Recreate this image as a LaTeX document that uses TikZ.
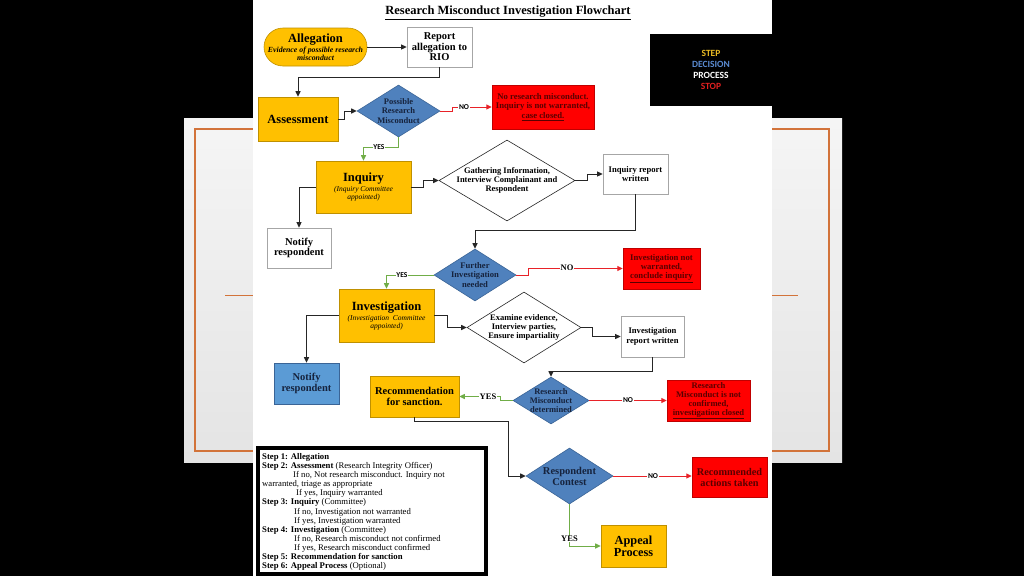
\documentclass[tikz,border=0pt]{standalone}
\usepackage{fontspec}
\setmainfont{Liberation Serif}
\newfontfamily\calfont{Carlito}
\usetikzlibrary{shapes.geometric,arrows.meta,calc}
\newcommand{\fsz}[2]{\fontsize{#1}{#2}\selectfont}
\definecolor{gold}{HTML}{FFC000}
\definecolor{goldb}{HTML}{BF9000}
\definecolor{bluef}{HTML}{4F81BD}
\definecolor{blueb}{HTML}{3A6496}
\definecolor{notblue}{HTML}{5B9BD5}
\definecolor{redf}{HTML}{FF0000}
\definecolor{redb}{HTML}{C00000}
\definecolor{redtxt}{HTML}{5A0000}
\definecolor{navy}{HTML}{16233D}
\definecolor{grn}{HTML}{70AD47}
\definecolor{redln}{HTML}{E82228}
\definecolor{orng}{HTML}{D2733A}
\definecolor{lnk}{HTML}{262626}
\definecolor{boxb}{HTML}{A6A6A6}
\definecolor{slidetop}{HTML}{F5F5F5}
\definecolor{slidebot}{HTML}{E4E4E4}
\definecolor{stepc}{HTML}{E8B923}
\definecolor{decc}{HTML}{5A8AD0}
\definecolor{stopc}{HTML}{E02020}
\tikzset{
 goldbox/.style={draw=goldb, fill=gold, line width=0.6pt, align=center, inner sep=1pt},
 wbox/.style={draw=boxb, fill=white, line width=0.7pt, align=center, inner sep=1pt},
 bluebox/.style={draw=blueb, fill=notblue, line width=0.6pt, align=center, inner sep=1pt, text=navy},
 rbox/.style={draw=redb, fill=redf, line width=0.5pt, align=center, text=redtxt, inner sep=1pt},
 bdia/.style={diamond, draw=blueb, fill=bluef, line width=0.6pt, inner sep=0pt},
 wdia/.style={diamond, draw=lnk, fill=white, line width=0.6pt, inner sep=0pt},
 dtext/.style={align=center, inner sep=0pt},
 conn/.style={draw=lnk, line width=1pt, -{Triangle[length=5.5pt,width=5pt]}},
 gconn/.style={conn, draw=grn},
 rconn/.style={conn, draw=redln},
 lbl/.style={fill=white, inner sep=0.6pt, font=\calfont\bfseries\fsz{7.5}{8}},
 lbls/.style={fill=white, inner sep=0.6pt, font=\bfseries\fsz{8.5}{9}},
}
\begin{document}
\begin{tikzpicture}[x=1pt,y=-1pt]
% background slide
\fill[black] (0,0) rectangle (1024,576);
\shade[top color=slidetop, bottom color=slidebot] (184,118) rectangle (842,462);
\draw[orng, line width=1.3pt] (195,129) rectangle (829,451);
\draw[orng, line width=1.3pt] (225,295.5) -- (798,295.5);
\fill[white] (253,0) rectangle (772,576);

% title and key
\node[inner sep=0pt, font=\bfseries\fsz{12.5}{14}] (title) at (508,13) {\underline{Research Misconduct Investigation Flowchart}};
\node[fill=black, minimum width=122, minimum height=72, inner sep=0pt, align=center, font=\calfont\bfseries\fsz{9.5}{11}] (key) at (711,70) {\textcolor{stepc}{STEP}\\\textcolor{decc}{DECISION}\\\textcolor{white}{PROCESS}\\\textcolor{stopc}{STOP}};

% nodes
\node[goldbox, rounded corners=19pt, minimum width=103, minimum height=38, font=\bfseries\itshape\fsz{7.8}{8}] (alleg) at (315.5,47) {{\upshape\fsz{12.5}{13}Allegation}\\[0.5pt]Evidence of possible research\\misconduct};
\node[wbox, minimum width=65, minimum height=40, font=\bfseries\fsz{10.5}{10.5}] (rep) at (439.5,47) {Report\\allegation to\\RIO};
\node[goldbox, minimum width=80, minimum height=44, font=\bfseries\fsz{12.5}{13}] (assess) at (298,119) {Assessment};
\node[bdia, minimum width=83, minimum height=52] (pr) at (398.5,111) {};
\node[dtext, text=navy, font=\bfseries\fsz{8.5}{9.2}] (prt) at (pr) {Possible\\Research\\Misconduct};
\node[rbox, minimum width=102, minimum height=44, font=\bfseries\fsz{8.7}{9.5}] (rb1) at (543,107) {No research misconduct.\\Inquiry is not warranted,\\\underline{case closed.}};
\node[goldbox, minimum width=95, minimum height=52, font=\itshape\fsz{7.5}{8}] (inq) at (363.5,187) {{\upshape\bfseries\fsz{12.5}{13}Inquiry}\\[2pt](Inquiry Committee\\appointed)};
\node[wdia, minimum width=136, minimum height=81] (gath) at (507,180.5) {};
\node[dtext, font=\bfseries\fsz{8.5}{8.8}] (gatht) at (gath) {Gathering Information,\\Interview Complainant and\\Respondent};
\node[wbox, minimum width=65, minimum height=40, font=\bfseries\fsz{8.6}{9.2}] (irw) at (635.5,174) {Inquiry report\\written};
\node[wbox, minimum width=64, minimum height=40, font=\bfseries\fsz{10.5}{10.5}] (not1) at (299,248) {Notify\\respondent};
\node[bdia, minimum width=82, minimum height=52] (fin) at (475,275) {};
\node[dtext, text=navy, font=\bfseries\fsz{8.6}{9.2}] (fint) at (fin) {Further\\Investigation\\needed};
\node[rbox, minimum width=77, minimum height=41, font=\bfseries\fsz{8.7}{9.2}] (rb2) at (661.5,268.5) {Investigation not\\warranted,\\\underline{conclude inquiry}};
\node[goldbox, minimum width=95, minimum height=53, font=\itshape\fsz{7.5}{8}] (invest) at (386.5,315.5) {{\upshape\bfseries\fsz{12.5}{13}Investigation}\\[2pt](Investigation\ \ Committee\\appointed)};
\node[wdia, minimum width=114, minimum height=71] (exam) at (524,327.5) {};
\node[dtext, font=\bfseries\fsz{8.5}{9}] (examt) at (exam) {Examine evidence,\\Interview parties,\\Ensure impartiality};
\node[wbox, minimum width=63, minimum height=41, font=\bfseries\fsz{8.6}{9.2}] (irw2) at (652.5,336.5) {Investigation\\report written};
\node[bluebox, minimum width=65, minimum height=41, font=\bfseries\fsz{10.5}{11}] (not2) at (306.5,383.5) {Notify\\respondent};
\node[bdia, minimum width=76, minimum height=47] (rmd) at (551,400.5) {};
\node[dtext, text=navy, font=\bfseries\fsz{8.5}{8.8}] (rmdt) at (rmd) {Research\\Misconduct\\determined};
\node[rbox, minimum width=83, minimum height=41, font=\bfseries\fsz{8.6}{9}] (rb3) at (708.5,400.5) {Research\\Misconduct is not\\confirmed,\\\underline{investigation closed}};
\node[goldbox, minimum width=89, minimum height=41, font=\bfseries\fsz{10.5}{11}] (rec) at (414.5,396.5) {Recommendation\\for sanction.};
\node[bdia, minimum width=87, minimum height=56] (rc) at (569.5,476) {};
\node[dtext, text=navy, font=\bfseries\fsz{10.5}{11}] (rct) at (rc) {Respondent\\Contest};
\node[rbox, minimum width=75, minimum height=40, font=\bfseries\fsz{10.3}{11}] (rb4) at (729.5,477) {Recommended\\actions taken};
\node[goldbox, minimum width=65, minimum height=42, font=\bfseries\fsz{12.3}{12}] (appeal) at (633.5,546) {Appeal\\Process};

% connectors
\draw[conn] (alleg.east) -- (alleg.east -| rep.west);
\draw[conn] (rep.south) -- ++(0,10) -| (assess.north);
\draw[conn] (assess.east) -- ++(6,0) |- (pr.west);
\draw[rconn] (pr.east) -- ++(12,0) |- (rb1.west);
\draw[gconn] (pr.south) -- ++(0,10) -| (inq.north);
\draw[conn] (inq.east) -- ++(12,0) |- (gath.west);
\draw[conn] (gath.east) -- ++(12,0) |- (irw.west);
\draw[conn] (inq.west) -| (not1.north);
\draw[conn] (irw.south) -- ++(0,36) -| (fin.north);
\draw[rconn] (fin.east) -- ++(12,0) |- (rb2.west);
\draw[gconn] (fin.west) -| (invest.north);
\draw[conn] (invest.east) -- ++(13,0) |- (exam.west);
\draw[conn] (exam.east) -- ++(11,0) |- (irw2.west);
\draw[conn] (invest.west) -| (not2.north);
\draw[conn] (irw2.south) -- ++(0,14) -| (rmd.north);
\draw[rconn] (rmd.east) -- (rmd.east -| rb3.west);
\draw[gconn] (rmd.west) -- ++(-12,0) |- (rec.east);
\draw[conn] (rec.south) -- ++(0,4) -| ($(rc.west)+(-17,0)$) -- (rc.west);
\draw[rconn] (rc.east) -- (rc.east -| rb4.west);
\draw[gconn] (rc.south) |- (appeal.west);

% connector labels
\node[lbl] (no1) at (464,107) {NO};
\node[lbl] (yes1) at (379,147) {YES};
\node[lbl] (yes2) at (402,275) {YES};
\node[lbls] (no2) at (567,268) {NO};
\node[lbls] (yes3) at (488,397) {YES};
\node[lbl] (no3) at (628,400.5) {NO};
\node[lbl] (no4) at (653,476) {NO};
\node[lbls] (yes4) at (569.5,539) {YES};

% legend
\draw[black, line width=4pt] (258,448) rectangle (486,574);
\node[anchor=north west, align=left, inner sep=0pt, font=\fsz{8.7}{9.05}] (legt) at (262,453.5) {%
\textbf{Step 1: Allegation}\\
\textbf{Step 2: Assessment} (Research Integrity Officer)\\
\hspace*{31pt}If no, Not research misconduct. Inquiry not\\
warranted, triage as appropriate\\
\hspace*{34pt}If yes, Inquiry warranted\\
\textbf{Step 3: Inquiry} (Committee)\\
\hspace*{32pt}If no, Investigation not warranted\\
\hspace*{32pt}If yes, Investigation warranted\\
\textbf{Step 4: Investigation} (Committee)\\
\hspace*{32pt}If no, Research misconduct not confirmed\\
\hspace*{32pt}If yes, Research misconduct confirmed\\
\textbf{Step 5: Recommendation for sanction}\\
\textbf{Step 6: Appeal Process} (Optional)};
\end{tikzpicture}
\end{document}
